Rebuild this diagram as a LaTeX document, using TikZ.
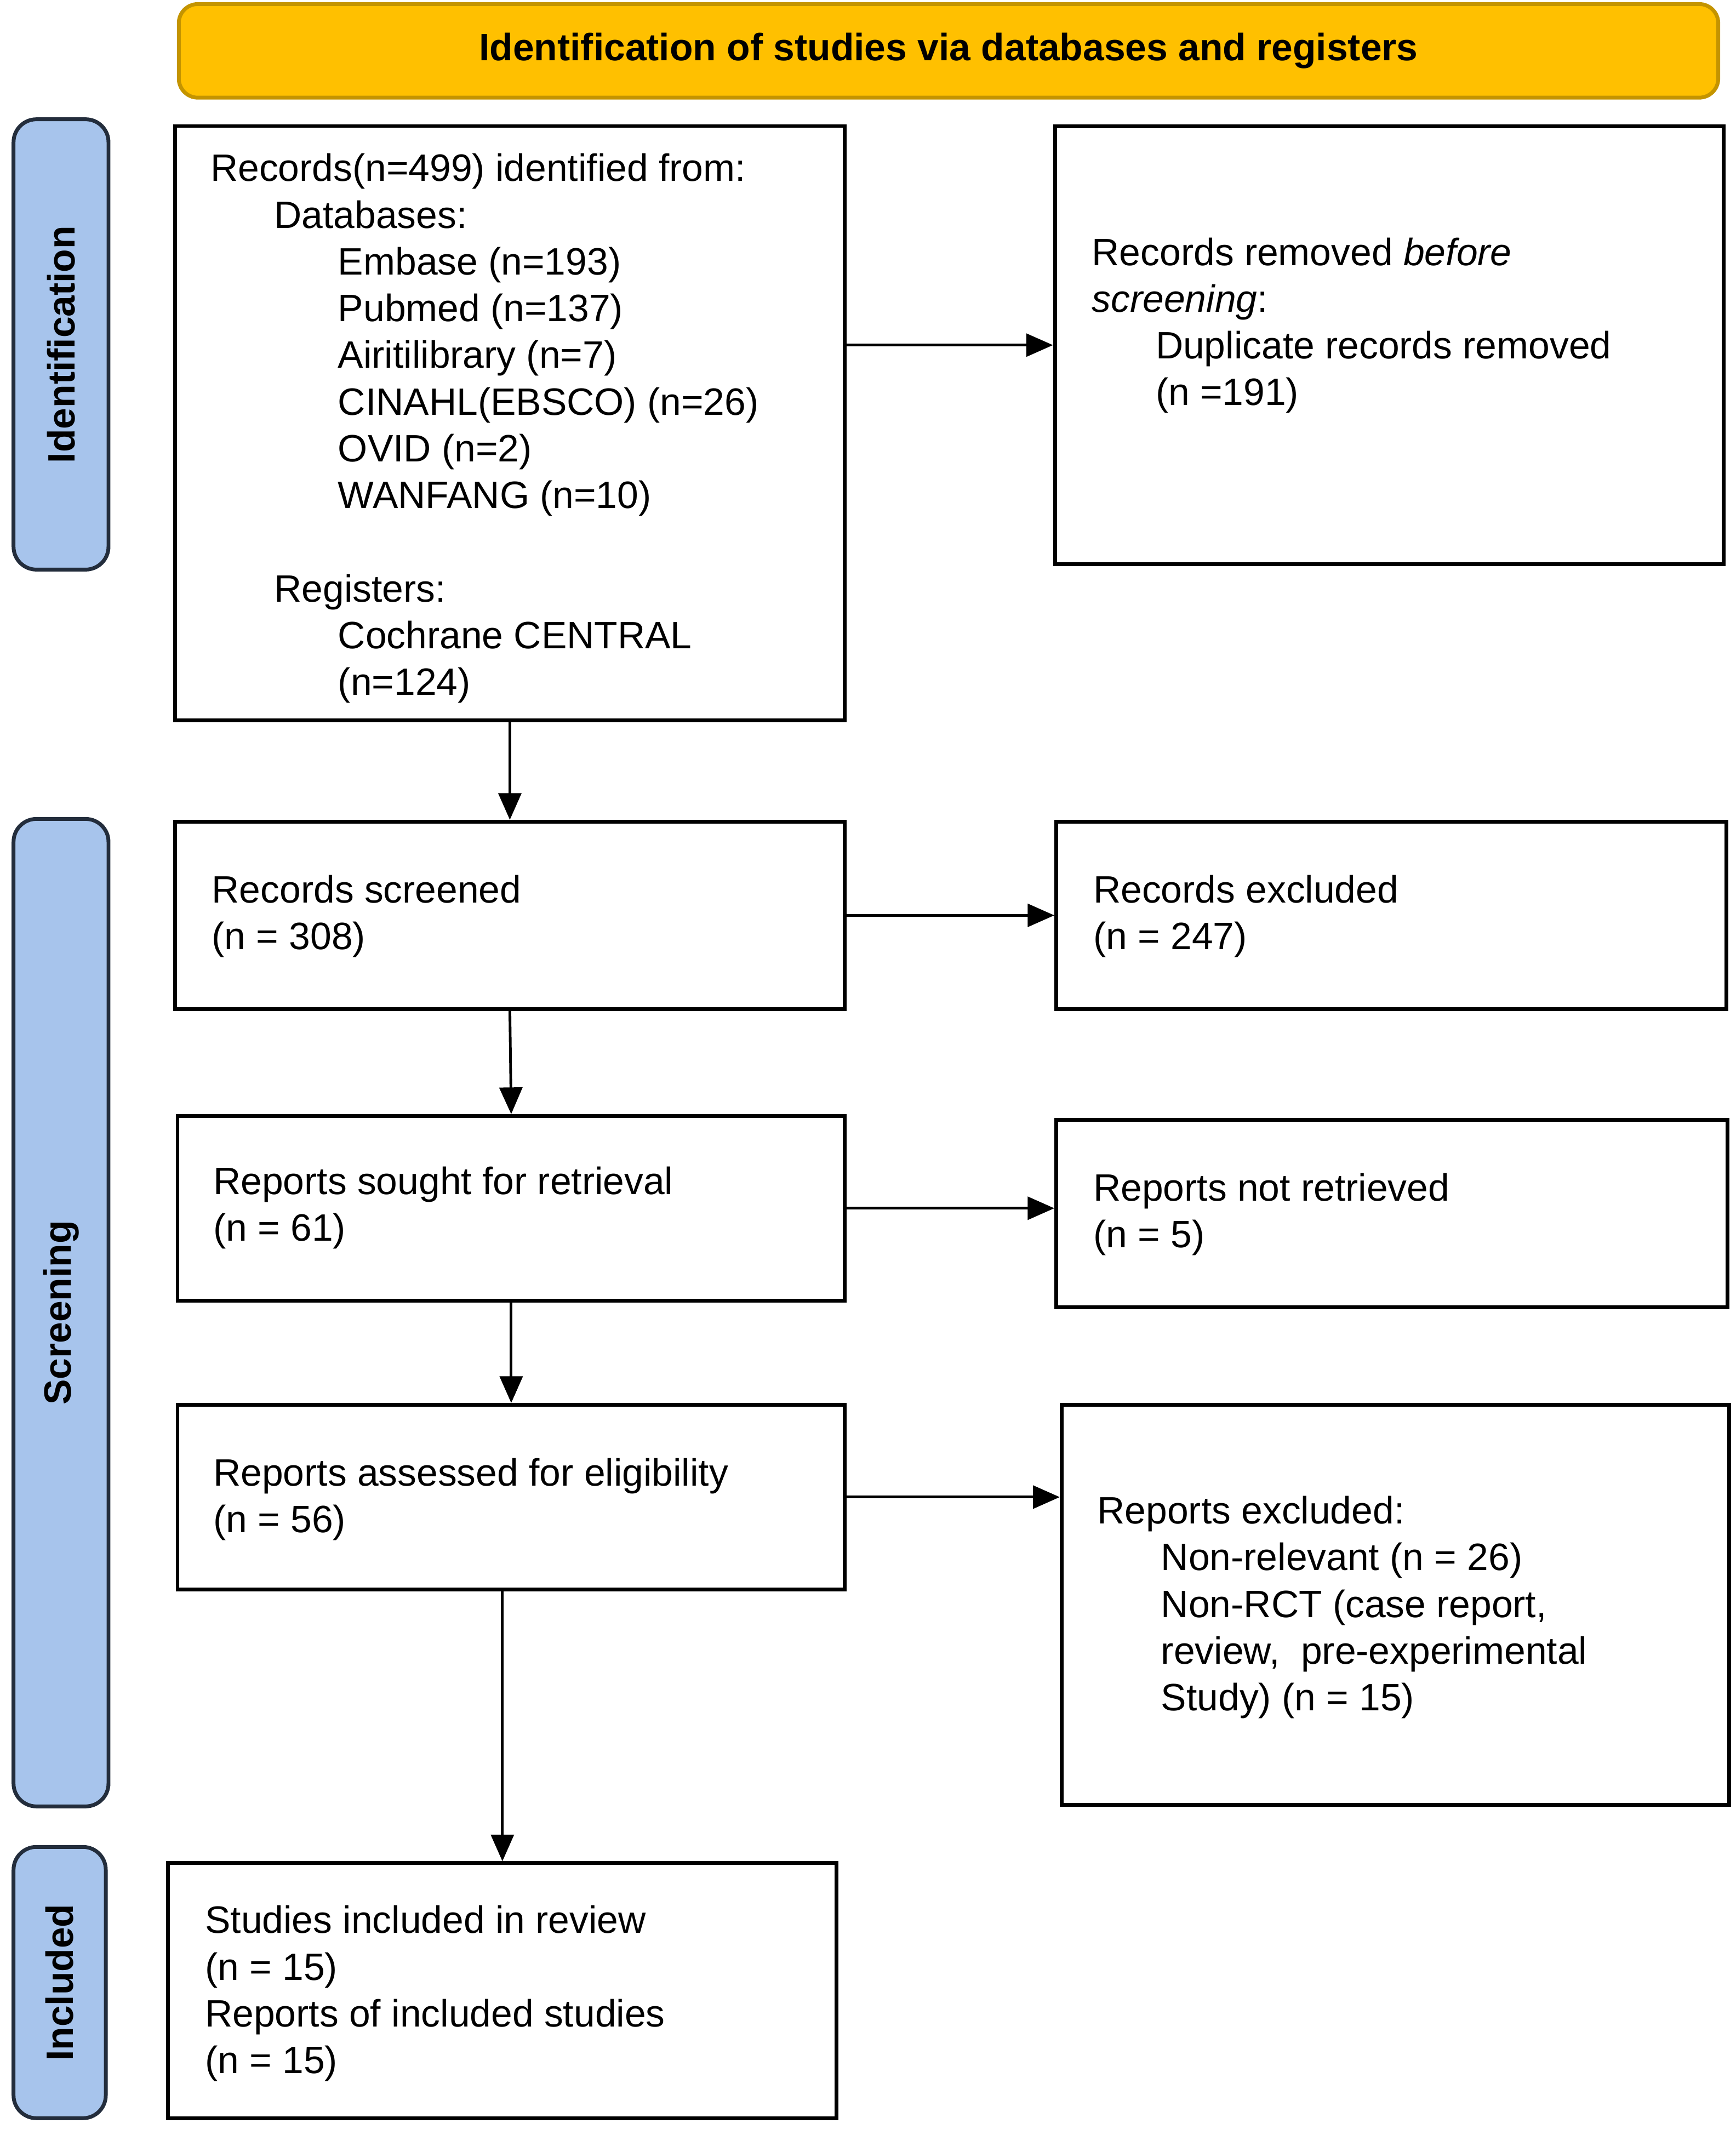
\documentclass[tikz,border=0pt]{standalone}
\usepackage{fontspec}
\setmainfont{Liberation Sans}
\usetikzlibrary{arrows.meta}
\definecolor{headfill}{RGB}{255,192,0}
\definecolor{headdraw}{RGB}{196,148,0}
\definecolor{sidefill}{RGB}{167,196,236}
\definecolor{sidedraw}{RGB}{35,45,60}
\tikzset{
	box/.style = {draw=black, line width=2pt, inner sep=0pt},
	txt/.style = {anchor=north west, align=left, inner sep=0pt, font=\fontsize{20}{24.5}\selectfont},
	head/.style = {draw=headdraw, fill=headfill, line width=2pt, rounded corners=10pt, font=\fontsize{20}{24}\selectfont\bfseries},
	side/.style = {draw=sidedraw, fill=sidefill, line width=2pt, rounded corners=12pt, font=\fontsize{20}{24}\selectfont\bfseries},
	arr/.style = {-{Triangle[length=14pt,width=12pt]}, line width=1.4pt}
}
\newcommand{\ind}{\hspace*{1.175cm}}
\begin{document}
\begin{tikzpicture}[x=0.025cm, y=-0.025cm]
\useasboundingbox (0,0) rectangle (1280,1570);
% header and side labels
\node [head, minimum width=28.375cm, minimum height=1.725cm] (head) at (699.5,37.5) {Identification of studies via databases and registers};
\node [side, minimum width=1.75cm, minimum height=8.3cm] (sid) at (45,254) {};
\node [rotate=90, font=\fontsize{20}{24}\selectfont\bfseries] (sidt) at (sid) {Identification};
\node [side, minimum width=1.75cm, minimum height=18.2cm] (scr) at (45,968) {};
\node [rotate=90, font=\fontsize{20}{24}\selectfont\bfseries] (scrt) at (scr) {Screening};
\node [side, minimum width=1.7cm, minimum height=5cm] (inc) at (44,1462) {};
\node [rotate=90, font=\fontsize{20}{24}\selectfont\bfseries] (inct) at (inc) {Included};
% boxes
\node [box, minimum width=12.35cm, minimum height=10.95cm] (recs) at (376,312) {};
\node [box, minimum width=12.325cm, minimum height=8.075cm] (dups) at (1024.5,254.5) {};
\node [box, minimum width=12.35cm, minimum height=3.45cm] (screened) at (376,675) {};
\node [box, minimum width=12.35cm, minimum height=3.45cm] (excl) at (1026,675) {};
\node [box, minimum width=12.3cm, minimum height=3.4cm] (sought) at (377,891) {};
\node [box, minimum width=12.375cm, minimum height=3.45cm] (notret) at (1026.5,895) {};
\node [box, minimum width=12.3cm, minimum height=3.4cm] (assess) at (377,1104) {};
\node [box, minimum width=12.3cm, minimum height=7.375cm] (repexcl) at (1029,1183.5) {};
\node [box, minimum width=12.325cm, minimum height=4.7cm] (incl) at (370.5,1468) {};
% texts
\node [txt] (recst) at (155,113) {Records(n=499) identified from:\\
\ind Databases:\\
\ind\ind Embase (n=193)\\
\ind\ind Pubmed (n=137)\\
\ind\ind Airitilibrary (n=7)\\
\ind\ind CINAHL(EBSCO) (n=26)\\
\ind\ind OVID (n=2)\\
\ind\ind WANFANG (n=10)\\[24.5pt]
\ind Registers:\\
\ind\ind Cochrane CENTRAL\\
\ind\ind (n=124)};
\node [txt] (dupst) at (805,175) {Records removed \textit{before}\\
\textit{screening}:\\
\ind Duplicate records removed\\
\ind (n =191)};
\node [txt] (screenedt) at (156,645) {Records screened\\(n = 308)};
\node [txt] (exclt) at (806,645) {Records excluded\\(n = 247)};
\node [txt] (soughtt) at (157,860) {Reports sought for retrieval\\(n = 61)};
\node [txt] (notrett) at (806,865) {Reports not retrieved\\(n = 5)};
\node [txt] (assesst) at (157,1075) {Reports assessed for eligibility\\(n = 56)};
\node [txt] (repexclt) at (809,1103) {Reports excluded:\\
\ind Non-relevant (n = 26)\\
\ind Non-RCT (case report,\\
\ind review,\ \ pre-experimental\\
\ind Study) (n = 15)};
\node [txt] (inclt) at (151,1405) {Studies included in review\\(n = 15)\\Reports of included studies\\(n = 15)};
% arrows
\draw [arr] (dups.west -| recs.east) -- (dups.west);
\draw [arr] (recs.south -| screened.north) -- (screened.north);
\draw [arr] (screened.east) -- (excl.west);
\draw [arr] (screened.south) -- (sought.north);
\draw [arr] (sought.east) -- (sought.east -| notret.west);
\draw [arr] (sought.south) -- (assess.north);
\draw [arr] (assess.east) -- (assess.east -| repexcl.west);
\draw [arr] (assess.south -| incl.north) -- (incl.north);
\end{tikzpicture}
\end{document}
